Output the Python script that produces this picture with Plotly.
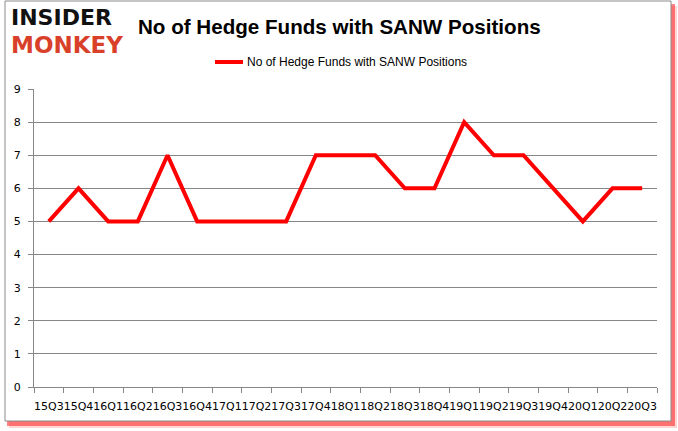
import plotly.graph_objects as go

quarters = ["15Q3", "15Q4", "16Q1", "16Q2", "16Q3", "16Q4", "17Q1", "17Q2", "17Q3", "17Q4",
            "18Q1", "18Q2", "18Q3", "18Q4", "19Q1", "19Q2", "19Q3", "19Q4", "20Q1", "20Q2", "20Q3"]
funds = [5, 6, 5, 5, 7, 5, 5, 5, 5, 7, 7, 7, 6, 6, 8, 7, 7, 6, 5, 6, 6]
y_ticks = [0, 1, 2, 3, 4, 5, 6, 7, 8, 9]
series_name = "No of Hedge Funds with SANW Positions"

W, H = 678, 431
L, R, T, B = 34, 21, 89, 44
pw, ph = W - L - R, H - T - B

def px_x(x):
    return (x - L) / pw

def px_y(y):
    return 1 - (y - T) / ph

fig = go.Figure()
fig.add_trace(go.Scatter(
    x=quarters, y=funds, mode="lines", name=series_name,
    line=dict(color="#ff0000", width=4), showlegend=False,
))

shapes = [
    # red shadow
    dict(type="rect", xref="paper", yref="paper", layer="below",
         x0=px_x(9), x1=px_x(677), y0=px_y(428), y1=px_y(6),
         fillcolor="rgba(255,120,120,0.3)", line=dict(width=0)),
    dict(type="rect", xref="paper", yref="paper", layer="below",
         x0=px_x(7), x1=px_x(675), y0=px_y(426), y1=px_y(4),
         fillcolor="rgba(255,30,30,0.55)", line=dict(width=0)),
    # white frame
    dict(type="rect", xref="paper", yref="paper", layer="below",
         x0=px_x(5), x1=px_x(671), y0=px_y(421), y1=px_y(1),
         fillcolor="white", line=dict(color="#8a8a8a", width=1)),
    # legend line
    dict(type="line", xref="paper", yref="paper", layer="above",
         x0=px_x(215), x1=px_x(243), y0=px_y(62), y1=px_y(62),
         line=dict(color="#ff0000", width=4)),
]

annotations = [
    dict(text="<b>INSIDER</b>", xref="paper", yref="paper", x=px_x(10), y=px_y(31),
         xanchor="left", yanchor="bottom", showarrow=False, borderpad=0,
         font=dict(family="DejaVu Sans", size=22, color="#111111")),
    dict(text="<b>MONKEY</b>", xref="paper", yref="paper", x=px_x(10), y=px_y(31),
         xanchor="left", yanchor="top", showarrow=False, borderpad=0,
         font=dict(family="DejaVu Sans", size=23, color="#d8402a")),
    dict(text="<b>No of Hedge Funds with SANW Positions</b>", xref="paper", yref="paper",
         x=px_x(339), y=px_y(27), xanchor="center", yanchor="middle", showarrow=False,
         font=dict(family="Liberation Sans", size=20.6, color="#000000")),
    dict(text=series_name, xref="paper", yref="paper",
         x=px_x(245), y=px_y(62), xanchor="left", yanchor="middle", showarrow=False,
         font=dict(family="Liberation Sans", size=12, color="#000000")),
]

fig.update_layout(
    width=W, height=H,
    margin=dict(l=L, r=R, t=T, b=B, pad=0, autoexpand=False),
    paper_bgcolor="white", plot_bgcolor="rgba(0,0,0,0)",
    shapes=shapes, annotations=annotations,
    showlegend=False,
    xaxis=dict(type="category", range=[-0.5, len(quarters) - 0.5], automargin=False,
               showgrid=False, showline=True, linecolor="#878787", linewidth=1,
               ticks="outside", ticklen=5, tickcolor="#878787", tickson="boundaries",
               tickangle=0, ticklabelstandoff=9,
               tickfont=dict(family="DejaVu Sans", size=11, color="#000000"),
               zeroline=False, fixedrange=True),
    yaxis=dict(range=[0, 9], tickvals=y_ticks, showgrid=True, gridcolor="#878787", gridwidth=1,
               automargin=False, ticklabelstandoff=5,
               showline=True, linecolor="#878787", linewidth=1,
               ticks="outside", ticklen=5, tickcolor="#878787",
               tickfont=dict(family="DejaVu Sans", size=11, color="#000000"),
               zeroline=False, fixedrange=True),
)

fig.write_html("out.html", config={"displayModeBar": False},
               post_script="document.body.style.margin='0';document.body.style.padding='0';")
